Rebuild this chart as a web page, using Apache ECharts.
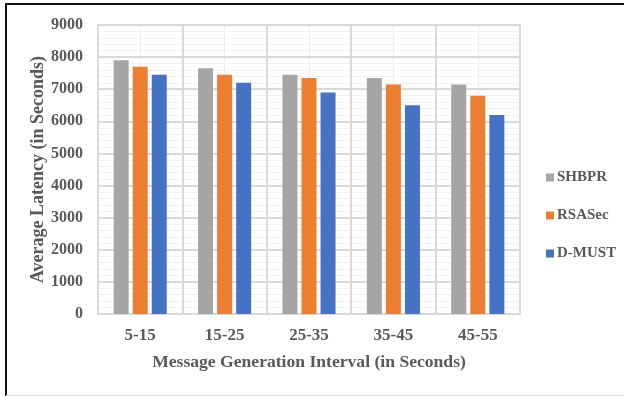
<!DOCTYPE html>
<html>
<head>
<meta charset="utf-8">
<script src="https://cdn.jsdelivr.net/npm/echarts@6/dist/echarts.min.js"></script>
<style>html,body{margin:0;padding:0;background:#fff;}#c{width:624px;height:396px;}</style>
</head>
<body>
<div id="c"></div>
<script>
var categories = ['5-15', '15-25', '25-35', '35-45', '45-55'];
var shbpr = [7900, 7650, 7450, 7350, 7150];
var rsasec = [7700, 7450, 7350, 7150, 6800];
var dmust = [7450, 7200, 6900, 6500, 6200];
var yTicks = [0, 1000, 2000, 3000, 4000, 5000, 6000, 7000, 8000, 9000];
var yTitle = 'Average Latency (in Seconds)';
var xTitle = 'Message Generation Interval (in Seconds)';
var halfCats = [];
categories.forEach(function (c) { halfCats.push(c + 'a', c + 'b'); });

var FONT = '"Liberation Serif", "Times New Roman", serif';
var TXT = '#595959';

var chart = echarts.init(document.getElementById('c'), null, { renderer: 'canvas' });
chart.setOption({
  animation: false,
  backgroundColor: '#fff',
  grid: { left: 98, right: 104, top: 25, bottom: 82, show: true, borderColor: '#D9D9D9', borderWidth: 2, backgroundColor: 'transparent' },
  legend: {
    orient: 'vertical', left: 546, top: 170, itemWidth: 8, itemHeight: 8, itemGap: 23, padding: 0,
    icon: 'rect',
    textStyle: { fontFamily: FONT, fontWeight: 'bold', fontSize: 15, color: TXT, padding: [0, 0, 0, -2] },
    data: ['SHBPR', 'RSASec', 'D-MUST']
  },
  xAxis: [{
    type: 'category', data: categories, z: 3,
    axisLine: { show: true, lineStyle: { color: '#D9D9D9', width: 2 } },
    axisTick: { show: false },
    splitLine: { show: true, interval: 0, lineStyle: { color: '#D9D9D9', width: 2 } },
    axisLabel: { fontFamily: FONT, fontWeight: 'bold', fontSize: 17, color: TXT, margin: 13 },
    name: xTitle, nameLocation: 'middle', nameGap: 39,
    nameTextStyle: { fontFamily: FONT, fontWeight: 'bold', fontSize: 17.6, color: TXT }
  }, {
    type: 'category', data: halfCats, position: 'bottom', z: 1,
    axisLine: { show: false }, axisTick: { show: false }, axisLabel: { show: false },
    splitLine: { show: true, interval: 0, lineStyle: { color: '#EBEBEB', width: 1 } }
  }],
  yAxis: {
    type: 'value', min: 0, max: 9000, interval: 1000, z: 3,
    axisLine: { show: false }, axisTick: { show: false },
    splitLine: { show: true, lineStyle: { color: '#D9D9D9', width: 2 } },
    minorTick: { show: false, splitNumber: 5 },
    minorSplitLine: { show: true, lineStyle: { color: '#F2F2F2', width: 1 } },
    axisLabel: { fontFamily: FONT, fontWeight: 'bold', fontSize: 16, color: TXT, margin: 15,
      formatter: function (v) { return yTicks.indexOf(v) >= 0 ? String(v) : ''; } }
  },
  series: [
    { name: 'SHBPR', type: 'bar', data: shbpr, barWidth: 15, barGap: '27%', itemStyle: { color: '#A5A5A5' }, z: 5 },
    { name: 'RSASec', type: 'bar', data: rsasec, barWidth: 15, barGap: '27%', itemStyle: { color: '#ED7D31' }, z: 5 },
    { name: 'D-MUST', type: 'bar', data: dmust, barWidth: 15, barGap: '27%', itemStyle: { color: '#4472C4' }, z: 5 }
  ],
  graphic: [
    { type: 'text', x: 38, y: 169.5, rotation: Math.PI / 2, z: 50,
      style: { text: yTitle, align: 'center', verticalAlign: 'middle', fill: TXT,
        font: 'bold 18px ' + FONT } },
    { type: 'line', shape: { x1: 6, y1: 4, x2: 624, y2: 4 }, style: { stroke: '#111', lineWidth: 2 }, z: 100 },
    { type: 'line', shape: { x1: 6, y1: 3, x2: 6, y2: 396 }, style: { stroke: '#111', lineWidth: 2 }, z: 100 },
    { type: 'line', shape: { x1: 6, y1: 395.5, x2: 624, y2: 395.5 }, style: { stroke: '#E0E0E0', lineWidth: 1 }, z: 100 }
  ]
});
</script>
</body>
</html>
